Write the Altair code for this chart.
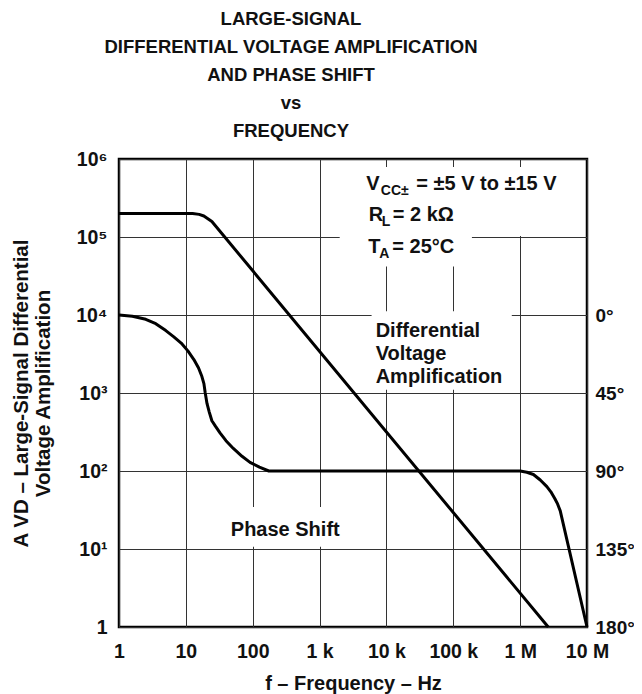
import altair as alt
import pandas as pd

FONT = "Liberation Sans"

# ---------------- data ----------------
gain_freq = [1, 12.6, 15.8, 18.6, 24.5, 2.63e6]
gain_amp = [2.0e5, 2.0e5, 1.95e5, 1.86e5, 1.58e5, 1]

phase_freq = [1, 1.585, 2.512, 3.548, 5.012, 6.607, 8.511, 10.72, 13.18, 15.49, 17.38, 18.62, 19.5,
              20.7, 22.4, 24.5, 27.5, 32.4, 39.8, 51.3, 69.2, 91.2, 126, 174,
              1.0e6, 1.26e6, 1.58e6, 2.0e6, 2.51e6, 2.88e6, 3.31e6, 3.63e6, 3.98e6, 1.0e7]
phase_deg = [0, 0.7, 2.5, 5, 9, 12.6, 16.2, 20.7, 25.7, 30.6, 35.5, 39.6, 45,
             51, 56, 61, 64, 68, 72.5, 77, 81.5, 85, 87.8, 90,
             90, 90.7, 92, 95.2, 99, 102, 106, 109, 113, 180]

x_ticks = [1, 10, 100, 1e3, 1e4, 1e5, 1e6, 1e7]
x_tick_labels = ["1", "10", "100", "1 k", "10 k", "100 k", "1 M", "10 M"]
y_ticks = [1, 10, 100, 1e3, 1e4, 1e5, 1e6]
y_tick_labels = ["1", "10\u00b9", "10\u00b2", "10\u00b3", "10\u2074", "10\u2075", "10\u2076"]
phase_ticks = [1, 10, 100, 1e3, 1e4]   # positions of 180, 135, 90, 45, 0 degrees

title_lines = ["LARGE-SIGNAL", "DIFFERENTIAL VOLTAGE AMPLIFICATION",
               "AND PHASE SHIFT", "vs", "FREQUENCY"]

# annotation text pieces: text, anchor f, anchor A, dx, dy, size
ann_text = ["V", "CC\u00b1", "= \u00b15 V to \u00b115 V",
            "R", "L", "= 2 k\u03a9",
            "T", "A", "= 25\u00b0C",
            "Differential", "Voltage", "Amplification",
            "Phase Shift"]
ann_f = [5000] * 9 + [6900] * 3 + [47]
ann_a = [4.0e5] * 9 + [5180] * 3 + [14.7]
ann_dx = [0, 14.5, 50, 2.5, 15.5, 26.5, 2, 13, 26, 0, 0, 0, 0]
ann_dy = [0, 4.5, 0, 31, 35.5, 31, 63, 67.5, 63, 0, 23, 46, 0]
ann_size = [20, 14, 20, 20, 14, 20, 20, 14, 20, 20, 20, 20, 20]

# white boxes behind the labels (grid lines are interrupted there)
box_f1 = [2000, 2000, 6000, 38]
box_f2 = [1.26e6, 1.9e5, 7.5e5, 2400]
box_a1 = [1.03e5, 4.2e4, 1.1e3, 10.7]
box_a2 = [7.9e5, 7.9e5, 1.12e4, 34.5]

# ---------------- tables ----------------
gain_df = pd.DataFrame({"f": gain_freq, "A": gain_amp})
phase_df = pd.DataFrame({"f": phase_freq, "phase": phase_deg})
ann_df = pd.DataFrame({"t": ann_text, "f": ann_f, "A": ann_a})
box_df = pd.DataFrame({"f1": box_f1, "f2": box_f2, "a1": box_a1, "a2": box_a2})

xscale = alt.Scale(type="log", domain=[1, 1e7], nice=False)
yscale = alt.Scale(type="log", domain=[1, 1e6], nice=False)

ylab_expr = "[" + ",".join("'%s'" % s for s in y_tick_labels) + "][round(log(datum.value)/LN10)]"
xlab_expr = "[" + ",".join("'%s'" % s for s in x_tick_labels) + "][round(log(datum.value)/LN10)]"

x_axis = alt.Axis(values=x_ticks, labelExpr=xlab_expr, title="f \u2013 Frequency \u2013 Hz",
                  grid=True, ticks=False, tickSize=0, domain=False, labelFlush=False,
                  labelOverlap=False, labelPadding=15, labelFontSize=19.5,
                  titleFontSize=20, titlePadding=13)
y_axis = alt.Axis(values=y_ticks, labelExpr=ylab_expr,
                  title=["A VD \u2013 Large-Signal Differential", "Voltage Amplification"],
                  grid=True, ticks=False, tickSize=0, domain=False, labelOverlap=False,
                  labelPadding=12, labelFontSize=19.5, titleFontSize=20.5,
                  titleLineHeight=22, titlePadding=22)

boxes = alt.Chart(box_df).mark_rect(color="white").encode(
    x=alt.X("f1:Q", scale=xscale, axis=x_axis),
    x2="f2:Q",
    y=alt.Y("a1:Q", scale=yscale, axis=y_axis),
    y2="a2:Q",
)

gain = alt.Chart(gain_df).mark_line(color="black", strokeWidth=3, strokeJoin="round").encode(
    x=alt.X("f:Q", scale=xscale),
    y=alt.Y("A:Q", scale=yscale),
    order="f:Q",
)

text_layers = []
for i in range(len(ann_text)):
    text_layers.append(
        alt.Chart(ann_df.iloc[[i]]).mark_text(
            align="left", baseline="alphabetic", font=FONT, fontWeight="bold",
            color="#111", fontSize=ann_size[i], dx=ann_dx[i], dy=ann_dy[i],
        ).encode(
            x=alt.X("f:Q", scale=xscale),
            y=alt.Y("A:Q", scale=yscale),
            text="t:N",
        )
    )

main = alt.layer(boxes, gain, *text_layers)

phase_axis = alt.Axis(values=phase_ticks, orient="right", grid=False, ticks=False, tickSize=0,
                      domain=False, labelOverlap=False, labelPadding=8, labelFontSize=19,
                      labelExpr="round((4 - log(datum.value)/LN10)*45) + '\u00b0'", title=None)

phase = alt.Chart(phase_df).transform_calculate(
    A="pow(10, 4 - datum.phase/45)"
).mark_line(color="black", strokeWidth=3, strokeJoin="round").encode(
    x=alt.X("f:Q", scale=xscale),
    y=alt.Y("A:Q", scale=yscale, axis=phase_axis),
    order="f:Q",
)

chart = alt.layer(main, phase).resolve_scale(y="independent").properties(
    width=468, height=468,
    autosize=alt.AutoSizeParams(type="none"),
    padding={"left": 111, "top": 151, "right": 47, "bottom": 72},
    title=alt.TitleParams(text=title_lines, fontSize=18.5, font=FONT, fontWeight="bold",
                          lineHeight=28, anchor="middle", dx=-62, offset=8.5, color="#111"),
).configure_view(stroke="black", strokeWidth=2.5).configure_axis(
    labelFont=FONT, titleFont=FONT, labelFontWeight="bold", titleFontWeight="bold",
    labelColor="#111", titleColor="#111", gridColor="#333", gridWidth=1, gridOpacity=1,
)

chart.save("out.html", embed_options={"renderer": "svg", "actions": False})
